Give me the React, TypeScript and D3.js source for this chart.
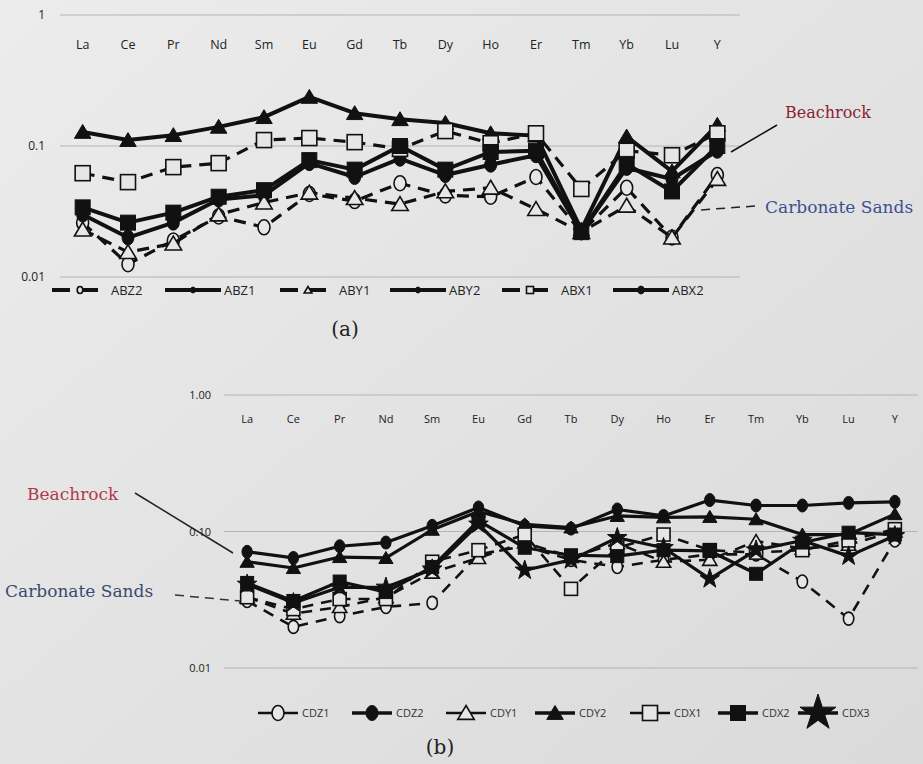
import React from "react";
import * as d3 from "d3";

const WIDTH = 923;
const HEIGHT = 764;

const ELEMENTS = ["La", "Ce", "Pr", "Nd", "Sm", "Eu", "Gd", "Tb", "Dy", "Ho", "Er", "Tm", "Yb", "Lu", "Y"];

// (a) series
const ABZ2 = [0.026, 0.0125, 0.019, 0.029, 0.024, 0.043, 0.038, 0.052, 0.042, 0.041, 0.058, 0.022, 0.048, 0.02, 0.06];
const ABZ1 = [0.03, 0.02, 0.026, 0.039, 0.042, 0.074, 0.058, 0.08, 0.06, 0.072, 0.085, 0.022, 0.068, 0.056, 0.092];
const ABY1 = [0.023, 0.0155, 0.018, 0.03, 0.037, 0.044, 0.04, 0.036, 0.045, 0.048, 0.033, 0.022, 0.035, 0.02, 0.056];
const ABY2 = [0.128, 0.111, 0.121, 0.14, 0.166, 0.237, 0.178, 0.16, 0.15, 0.125, 0.12, 0.023, 0.118, 0.064, 0.145];
const ABX1 = [0.062, 0.053, 0.069, 0.074, 0.111, 0.115, 0.107, 0.095, 0.13, 0.105, 0.125, 0.047, 0.092, 0.085, 0.125];
const ABX2 = [0.034, 0.026, 0.031, 0.041, 0.046, 0.078, 0.066, 0.1, 0.066, 0.09, 0.092, 0.022, 0.073, 0.045, 0.1];

// (b) series
const CDZ1 = [0.031, 0.02, 0.024, 0.028, 0.03, 0.068, 0.078, 0.062, 0.055, 0.062, 0.068, 0.068, 0.043, 0.023, 0.086];
const CDZ2 = [0.071, 0.064, 0.078, 0.083, 0.11, 0.15, 0.11, 0.105, 0.145, 0.13, 0.17, 0.155, 0.155, 0.162, 0.165];
const CDY1 = [0.033, 0.025, 0.028, 0.033, 0.05, 0.064, 0.083, 0.065, 0.082, 0.06, 0.062, 0.085, 0.075, 0.08, 0.1];
const CDY2 = [0.06, 0.054, 0.065, 0.064, 0.103, 0.14, 0.113, 0.107, 0.13, 0.127, 0.128, 0.123, 0.095, 0.095, 0.134];
const CDX1 = [0.033, 0.027, 0.032, 0.032, 0.06, 0.073, 0.095, 0.038, 0.076, 0.095, 0.073, 0.07, 0.073, 0.086, 0.104];
const CDX2 = [0.042, 0.031, 0.043, 0.036, 0.055, 0.12, 0.076, 0.067, 0.066, 0.073, 0.072, 0.049, 0.083, 0.098, 0.095];
const CDX3 = [0.041, 0.03, 0.039, 0.039, 0.053, 0.113, 0.052, 0.062, 0.09, 0.076, 0.045, 0.073, 0.086, 0.066, 0.093];

const TICKS_A = ["1", "0.1", "0.01"];
const TICKS_B = ["1.00", "0.10", "0.01"];
const TICK_VALUES = [1, 0.1, 0.01];

type Shape = "circle" | "triangle" | "square" | "star";
type Series = { name: string; values: number[]; shape: Shape; filled: boolean; dashed: boolean };

const SERIES_A: Series[] = [
  { name: "ABZ2", values: ABZ2, shape: "circle", filled: false, dashed: true },
  { name: "ABZ1", values: ABZ1, shape: "circle", filled: true, dashed: false },
  { name: "ABY1", values: ABY1, shape: "triangle", filled: false, dashed: true },
  { name: "ABY2", values: ABY2, shape: "triangle", filled: true, dashed: false },
  { name: "ABX1", values: ABX1, shape: "square", filled: false, dashed: true },
  { name: "ABX2", values: ABX2, shape: "square", filled: true, dashed: false },
];

const SERIES_B: Series[] = [
  { name: "CDZ1", values: CDZ1, shape: "circle", filled: false, dashed: true },
  { name: "CDZ2", values: CDZ2, shape: "circle", filled: true, dashed: false },
  { name: "CDY1", values: CDY1, shape: "triangle", filled: false, dashed: true },
  { name: "CDY2", values: CDY2, shape: "triangle", filled: true, dashed: false },
  { name: "CDX1", values: CDX1, shape: "square", filled: false, dashed: true },
  { name: "CDX2", values: CDX2, shape: "square", filled: true, dashed: false },
  { name: "CDX3", values: CDX3, shape: "star", filled: true, dashed: false },
];

const BG_FILL = "#e6e6e6";
const SANS = "'Open Sans', 'DejaVu Sans', sans-serif";
const SERIF = "'DejaVu Serif', 'Liberation Serif', serif";

function Marker({ shape, filled, x, y, size }: { shape: Shape; filled: boolean; x: number; y: number; size: number }) {
  const fill = filled ? "#111" : BG_FILL;
  const stroke = "#111";
  const sw = filled ? 1 : 1.6;
  const h = size / 2;
  if (shape === "circle") {
    return <ellipse cx={x} cy={y} rx={h * 0.8} ry={h} fill={fill} stroke={stroke} strokeWidth={sw} />;
  }
  if (shape === "triangle") {
    const pts = `${x},${y - h} ${x + h * 1.1},${y + h * 0.85} ${x - h * 1.1},${y + h * 0.85}`;
    return <polygon points={pts} fill={fill} stroke={stroke} strokeWidth={sw} />;
  }
  if (shape === "square") {
    return <rect x={x - h} y={y - h} width={size} height={size} fill={fill} stroke={stroke} strokeWidth={sw} />;
  }
  const star = d3.symbol().type(d3.symbolStar).size(size * size * 0.7)();
  return <path d={star || ""} transform={`translate(${x},${y})`} fill={fill} stroke={stroke} strokeWidth={1} />;
}

function Panel({
  series,
  left,
  right,
  top,
  bottom,
  catY,
  catSize,
  tickLabels,
  tickX,
  tickSize,
  markerSize,
  lineWidth,
  dash,
}: {
  series: Series[];
  left: number;
  right: number;
  top: number;
  bottom: number;
  catY: number;
  catSize: number;
  tickLabels: string[];
  tickX: number;
  tickSize: number;
  markerSize: number;
  lineWidth: number;
  dash: string;
}) {
  const x = d3.scaleBand<string>().domain(ELEMENTS).range([left, right]);
  const y = d3.scaleLog().domain([0.01, 1]).range([bottom, top]);
  const cx = (c: string) => (x(c) ?? 0) + x.bandwidth() / 2;
  const line = d3
    .line<number>()
    .x((_, i) => cx(ELEMENTS[i]))
    .y((d) => y(d));

  return (
    <g>
      {TICK_VALUES.map((t, i) => (
        <g key={`g-${t}`}>
          <line x1={left} x2={right} y1={y(t)} y2={y(t)} stroke="#b4b4b4" strokeWidth={1} />
          <text x={tickX} y={y(t) + 4} textAnchor="end" fontSize={tickSize} fontFamily={SANS} fill="#222">
            {tickLabels[i]}
          </text>
        </g>
      ))}
      {ELEMENTS.map((c) => (
        <text key={c} x={cx(c)} y={catY} textAnchor="middle" fontSize={catSize} fontFamily={SANS} fill="#222">
          {c}
        </text>
      ))}
      {series.map((s) => (
        <g key={s.name}>
          <path
            d={line(s.values) || ""}
            fill="none"
            stroke="#111"
            strokeWidth={s.dashed ? lineWidth * 0.8 : lineWidth}
            strokeDasharray={s.dashed ? dash : undefined}
            strokeLinejoin="round"
          />
          {s.values.map((v, i) => (
            <Marker key={i} shape={s.shape} filled={s.filled} x={cx(ELEMENTS[i])} y={y(v)} size={markerSize} />
          ))}
        </g>
      ))}
    </g>
  );
}

export default function App() {
  const legendA = [52, 165, 280, 390, 502, 613];
  const legendB = [258, 352, 446, 535, 630, 718, 798];

  return (
    <svg width={WIDTH} height={HEIGHT} style={{ position: "absolute", left: 0, top: 0 }}>
      <defs>
        <linearGradient id="bg" x1="0" y1="0" x2="1" y2="1">
          <stop offset="0" stopColor="#ececec" />
          <stop offset="1" stopColor="#dadada" />
        </linearGradient>
      </defs>
      <rect width={WIDTH} height={HEIGHT} fill="url(#bg)" />

      <Panel
        series={SERIES_A}
        left={60}
        right={740}
        top={15}
        bottom={277}
        catY={49}
        catSize={12.5}
        tickLabels={TICKS_A}
        tickX={45}
        tickSize={12}
        markerSize={15}
        lineWidth={4}
        dash="12,8"
      />

      {SERIES_A.map((s, i) => {
        const x0 = legendA[i];
        const mid = x0 + 28;
        return (
          <g key={`la-${s.name}`}>
            <line
              x1={x0}
              x2={x0 + 56}
              y1={290}
              y2={290}
              stroke="#111"
              strokeWidth={4}
              strokeDasharray={s.dashed ? "18,10,18" : undefined}
            />
            <Marker
              shape={s.filled ? "circle" : s.shape}
              filled={s.filled}
              x={mid}
              y={290}
              size={s.filled ? (s.name === "ABX2" ? 8 : 6) : 7}
            />
            <text x={x0 + 59} y={295} fontSize={13} fontFamily={SANS} fill="#222">
              {s.name}
            </text>
          </g>
        );
      })}
      <text x={345} y={336} textAnchor="middle" fontSize={20} fontFamily={SERIF} fill="#222">
        (a)
      </text>

      <line x1={777} y1={125} x2={731} y2={152} stroke="#111" strokeWidth={1.5} />
      <text x={785} y={118} fontSize={16} fontFamily={SERIF} fill="#8b2232">
        Beachrock
      </text>
      <line x1={755} y1={206} x2={700} y2={210} stroke="#222" strokeWidth={1.5} strokeDasharray="9,6" />
      <text x={765} y={213} fontSize={17} fontFamily={SERIF} fill="#3d5190">
        Carbonate Sands
      </text>

      <Panel
        series={SERIES_B}
        left={224}
        right={918}
        top={395}
        bottom={668}
        catY={423}
        catSize={11}
        tickLabels={TICKS_B}
        tickX={211}
        tickSize={11}
        markerSize={13}
        lineWidth={3.2}
        dash="11,8"
      />

      <line x1={135} y1={493} x2={233} y2={553} stroke="#222" strokeWidth={1.5} />
      <text x={27} y={500} fontSize={17} fontFamily={SERIF} fill="#b03a4a">
        Beachrock
      </text>
      <line x1={175} y1={595} x2={240} y2={601} stroke="#333" strokeWidth={1.5} strokeDasharray="9,6" />
      <text x={5} y={597} fontSize={17} fontFamily={SERIF} fill="#3d4a6e">
        Carbonate Sands
      </text>

      {SERIES_B.map((s, i) => {
        const x0 = legendB[i];
        const mid = x0 + 20;
        return (
          <g key={`lb-${s.name}`}>
            <line x1={x0} x2={x0 + 40} y1={713} y2={713} stroke="#111" strokeWidth={s.filled ? 3.5 : 2.5} />
            <Marker shape={s.shape} filled={s.filled} x={mid} y={713} size={s.shape === "star" ? 24 : 15} />
            <text x={x0 + 44} y={717} fontSize={11} fontFamily={SANS} fill="#333">
              {s.name}
            </text>
          </g>
        );
      })}
      <text x={440} y={754} textAnchor="middle" fontSize={20} fontFamily={SERIF} fill="#222">
        (b)
      </text>
    </svg>
  );
}
